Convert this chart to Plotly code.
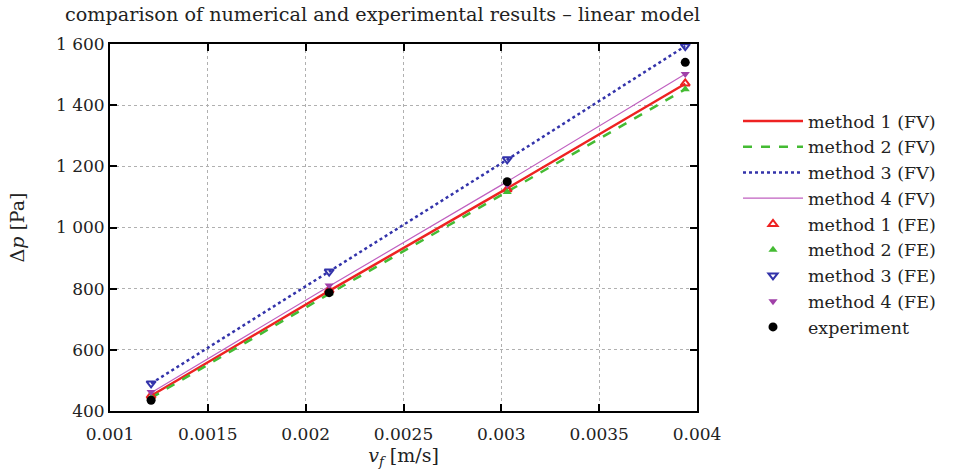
import plotly.graph_objects as go

vf = [0.00121, 0.00212, 0.00303, 0.00394]

m1_fv = [450, 793, 1128, 1470]
m2_fv = [443, 783, 1117, 1452]
m3_fv = [490, 855, 1222, 1593]
m4_fv = [460, 808, 1150, 1502]

m1_fe = [450, 795, 1125, 1471]
m2_fe = [444, 785, 1116, 1452]
m3_fe = [490, 856, 1223, 1593]
m4_fe = [462, 810, 1140, 1502]
experiment = [435, 787, 1150, 1540]

series_names_fv = ["method 1 (FV)", "method 2 (FV)", "method 3 (FV)", "method 4 (FV)"]
series_names_fe = ["method 1 (FE)", "method 2 (FE)", "method 3 (FE)", "method 4 (FE)"]

y_ticks = [400, 600, 800, 1000, 1200, 1400, 1600]
y_tick_labels = ["400", "600", "800", "1 000", "1 200", "1 400", "1 600"]
x_ticks = [0.001, 0.0015, 0.002, 0.0025, 0.003, 0.0035, 0.004]
x_tick_labels = ["0.001", "0.0015", "0.002", "0.0025", "0.003", "0.0035", "0.004"]

FONT = "DejaVu Serif"

fig = go.Figure()
line_styles = [
    dict(color="#ee2222", width=2.5, dash="solid"),
    dict(color="#44bb33", width=2.5, dash="dash"),
    dict(color="#3333aa", width=2.5, dash="dot"),
    dict(color="#c060c0", width=1.2, dash="solid"),
]
for name, ys, ls in zip(series_names_fv, [m1_fv, m2_fv, m3_fv, m4_fv], line_styles):
    fig.add_trace(go.Scatter(x=vf, y=ys, mode="lines", name=name, line=ls))

marker_styles = [
    dict(symbol="triangle-up-open", color="#ee2222", size=8, line=dict(width=2, color="#ee2222")),
    dict(symbol="triangle-up", color="#44bb33", size=8),
    dict(symbol="triangle-down-open", color="#3333aa", size=8, line=dict(width=2, color="#3333aa")),
    dict(symbol="triangle-down", color="#a040a8", size=8),
]
for name, ys, ms in zip(series_names_fe, [m1_fe, m2_fe, m3_fe, m4_fe], marker_styles):
    fig.add_trace(go.Scatter(x=vf, y=ys, mode="markers", name=name, marker=ms))

fig.add_trace(go.Scatter(x=vf, y=experiment, mode="markers", name="experiment",
                         marker=dict(symbol="circle", color="black", size=9)))

axis_common = dict(
    showline=True, linecolor="black", linewidth=2, mirror="ticks",
    ticks="inside", ticklen=7, tickwidth=2, tickcolor="black",
    showgrid=True, gridcolor="#b0b0b0", griddash="dot", gridwidth=1,
    zeroline=False, automargin=False,
    tickfont=dict(family=FONT, size=17, color="#222"),
)

fig.update_layout(
    width=953, height=475,
    margin=dict(l=110, r=256, t=44, b=64),
    plot_bgcolor="white", paper_bgcolor="white",
    font=dict(family=FONT, size=16, color="#222"),
    title=dict(text="comparison of numerical and experimental results \u2013 linear model",
               x=65 / 953, xref="container", xanchor="left", y=0.985, yanchor="top",
               font=dict(family=FONT, size=19.2, color="#222")),
    xaxis=dict(range=[0.001, 0.004], tickvals=x_ticks, ticktext=x_tick_labels,
               ticklabelstandoff=7,
               title=dict(text="<i>v<sub>f</sub></i> [m/s]", standoff=4,
                          font=dict(family=FONT, size=19)),
               **axis_common),
    yaxis=dict(range=[400, 1600], tickvals=y_ticks, ticktext=y_tick_labels,
               title=dict(text="\u0394<i>p</i> [Pa]", standoff=26,
                          font=dict(family=FONT, size=19)),
               **axis_common),
    legend=dict(xref="container", yref="container", x=738 / 953, xanchor="left",
                y=(475 - 103) / 475, yanchor="top", maxheight=360,
                font=dict(family=FONT, size=17.5, color="#222"),
                bgcolor="rgba(0,0,0,0)", tracegroupgap=0, itemwidth=60),
    showlegend=True,
)

fig.write_html("out.html", config={"displayModeBar": False},
               post_script="document.body.style.margin='0';")
